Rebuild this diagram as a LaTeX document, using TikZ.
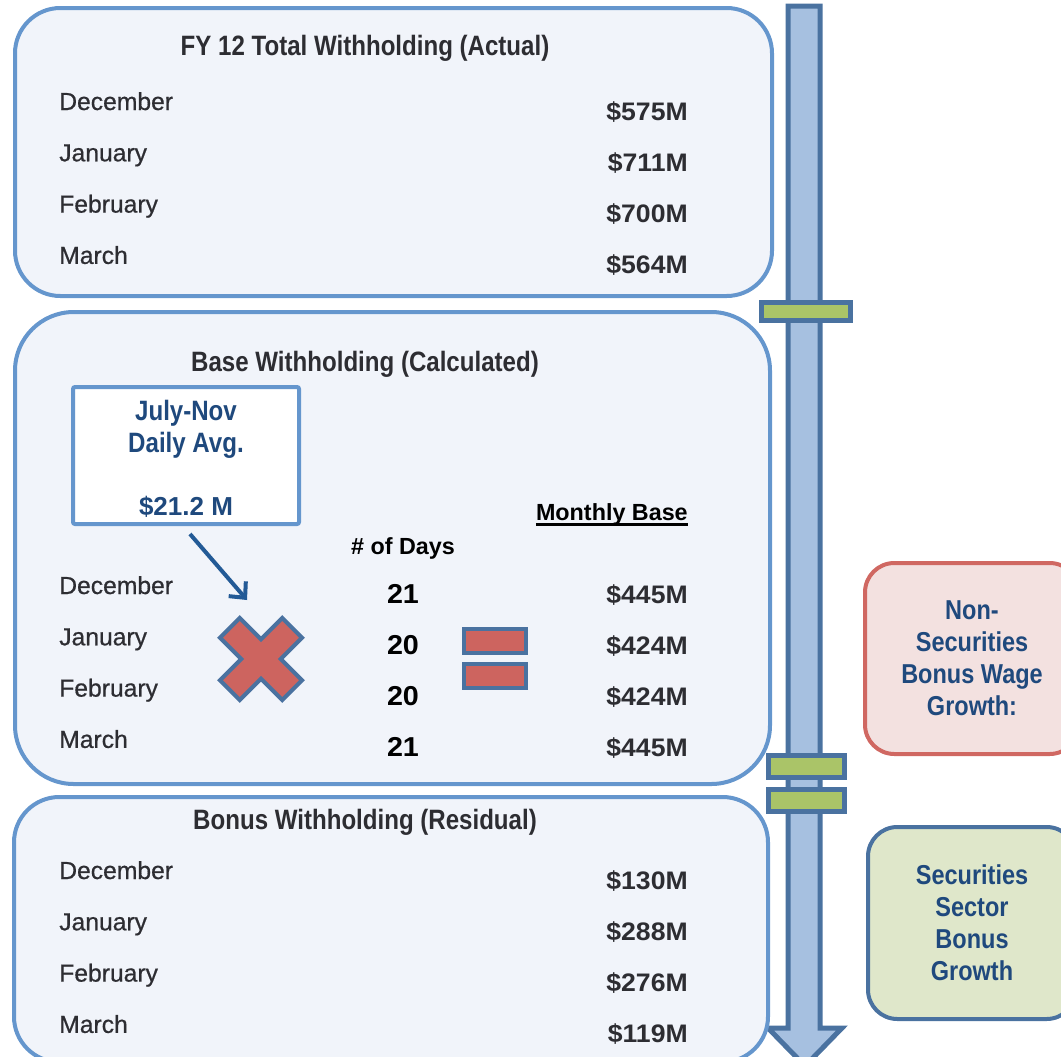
\documentclass[tikz,border=0pt]{standalone}
\usepackage{fontspec}
\setmainfont{Liberation Sans}
\newfontfamily\headfont{Liberation Sans}[FakeStretch=0.86]
\newfontfamily\numfont{Liberation Sans}[FakeStretch=1.05]
\newfontfamily\monthfont{Liberation Sans}[FakeBold=0.6]
\usetikzlibrary{arrows.meta}

\definecolor{panelblue}{RGB}{101,150,205}
\definecolor{panelfill}{RGB}{241,244,250}
\definecolor{darkline}{RGB}{74,114,160}
\definecolor{shaftfill}{RGB}{166,192,224}
\definecolor{barfill}{RGB}{170,196,104}
\definecolor{crossfill}{RGB}{205,100,95}
\definecolor{redline}{RGB}{208,104,98}
\definecolor{redfill}{RGB}{243,225,224}
\definecolor{greenfill}{RGB}{223,231,202}
\definecolor{navy}{RGB}{31,73,125}
\definecolor{pointer}{RGB}{35,90,150}
\definecolor{ink}{RGB}{45,45,50}

\tikzset{
  panel/.style={draw=panelblue, line width=3pt, fill=panelfill, rounded corners=34pt, inner sep=0pt},
  month/.style={anchor=base west, inner sep=0pt, text=ink, font=\monthfont\fontsize{18.5}{20}\selectfont},
  amount/.style={anchor=base east, inner sep=0pt, text=ink, font=\numfont\bfseries\fontsize{19}{20}\selectfont},
  days/.style={anchor=base, inner sep=0pt, font=\numfont\bfseries\fontsize{20.5}{22}\selectfont},
  heading/.style={anchor=base, inner sep=0pt, text=ink, font=\headfont\bfseries\fontsize{21}{24}\selectfont},
  driver/.style={line width=3pt, rounded corners=22pt, align=center, text=navy, font=\headfont\bfseries\fontsize{20.5}{24}\selectfont},
  gbar/.style={draw=darkline, line width=3.75pt, fill=barfill, inner sep=0pt},
}

\begin{document}
\begin{tikzpicture}[x=0.75pt, y=-0.75pt]
  \useasboundingbox (0,0) rectangle (1061,1057);

  % timeline arrow
  \draw[darkline, line width=3.75pt, fill=shaftfill, line join=miter]
    (788,6) -- (820,6) -- (820,1028) -- (842,1028) -- (805,1066) -- (768,1028) -- (788,1028) -- cycle;
  \node[gbar, minimum width=66.75pt, minimum height=13.5pt] (bar1) at (806,311.5) {};
  \node[gbar, minimum width=57pt, minimum height=16.5pt] (bar2) at (806.5,766.5) {};
  \node[gbar, minimum width=57pt, minimum height=16.5pt] (bar3) at (806.5,800.5) {};

  % total withholding
  \node[panel, minimum width=567.75pt, minimum height=216pt] (total) at (393.5,152) {};
  \node[heading] (totalhd) at (365,55) {FY 12 Total Withholding (Actual)};
  \foreach \m/\v [count=\i] in {December/575, January/711, February/700, March/564} {
    \node[month] (tm\i) at (59,{110+51.3*(\i-1)}) {\m};
    \node[amount] (tv\i) at (688,{120+51.3*(\i-1)}) {\$\v M};
  }

  % base withholding
  \node[panel, rounded corners=44pt, minimum width=566.25pt, minimum height=354pt] (base) at (392.5,548) {};
  \node[heading] (basehd) at (365,371) {Base Withholding (Calculated)};
  \node[draw=panelblue, line width=3pt, fill=white, rounded corners=1.5pt,
        minimum width=169.5pt, minimum height=102.75pt] (avg) at (186,455.5) {};
  \node[heading, text=navy] (avg1) at (186,420) {July-Nov};
  \node[heading, text=navy] (avg2) at (186,452) {Daily Avg.};
  \node[anchor=base, inner sep=0pt, text=navy, font=\bfseries\fontsize{19.5}{24}\selectfont] (avg3) at (186,515) {\$21.2 M};
  \node[anchor=base east, inner sep=0pt, font=\bfseries\fontsize{17.5}{20}\selectfont] (mbase) at (688,520) {Monthly Base};
  \draw[line width=2.2pt] ([yshift=-3.5pt]mbase.base west) -- ([yshift=-3.5pt]mbase.base east);
  \node[anchor=base, inner sep=0pt, font=\bfseries\fontsize{17.5}{20}\selectfont] (dayshd) at (403,554) {\# of Days};
  \foreach \m/\d/\v [count=\i] in {December/21/445, January/20/424, February/20/424, March/21/445} {
    \node[month] (bm\i) at (59,{594+51.3*(\i-1)}) {\m};
    \node[days] (bd\i) at (403,{603+51.3*(\i-1)}) {\d};
    \node[amount] (bv\i) at (688,{603+51.3*(\i-1)}) {\$\v M};
  }
  \coordinate (xtip) at (247,600);
  \draw[pointer, line width=3pt, -{Straight Barb[length=9pt, width=17pt]}]
    ([shift={(4,8)}]avg.south) -- (xtip);

  % times sign
  \begin{scope}[shift={(261,659)}, rotate=45]
    \draw[darkline, line width=3pt, fill=crossfill, line join=miter]
      (-14,-44) -- (14,-44) -- (14,-14) -- (44,-14) -- (44,14) -- (14,14) -- (14,44)
      -- (-14,44) -- (-14,14) -- (-44,14) -- (-44,-14) -- (-14,-14) -- cycle;
  \end{scope}

  % equals sign
  \draw[darkline, line width=3.5pt, fill=crossfill] (464,629) rectangle (526,653);
  \draw[darkline, line width=3.5pt, fill=crossfill] (464,664) rectangle (526,688);

  % bonus withholding
  \node[panel, minimum width=565.5pt, minimum height=198.75pt] (bonus) at (391,929.5) {};
  \node[heading] (bonushd) at (365,829) {Bonus Withholding (Residual)};
  \foreach \m/\v [count=\i] in {December/130, January/288, February/276, March/119} {
    \node[month] (rm\i) at (59,{879+51.3*(\i-1)}) {\m};
    \node[amount] (rv\i) at (688,{889+51.3*(\i-1)}) {\$\v M};
  }

  % growth drivers
  \node[driver, draw=redline, fill=redfill, minimum width=160.5pt, minimum height=143.25pt]
    (nonsec) at (972,658.5) {Non-\\Securities\\Bonus Wage\\Growth:};
  \node[driver, draw=darkline, fill=greenfill, minimum width=156pt, minimum height=144pt]
    (sec) at (972,923) {Securities\\Sector\\Bonus\\Growth};
\end{tikzpicture}
\end{document}
